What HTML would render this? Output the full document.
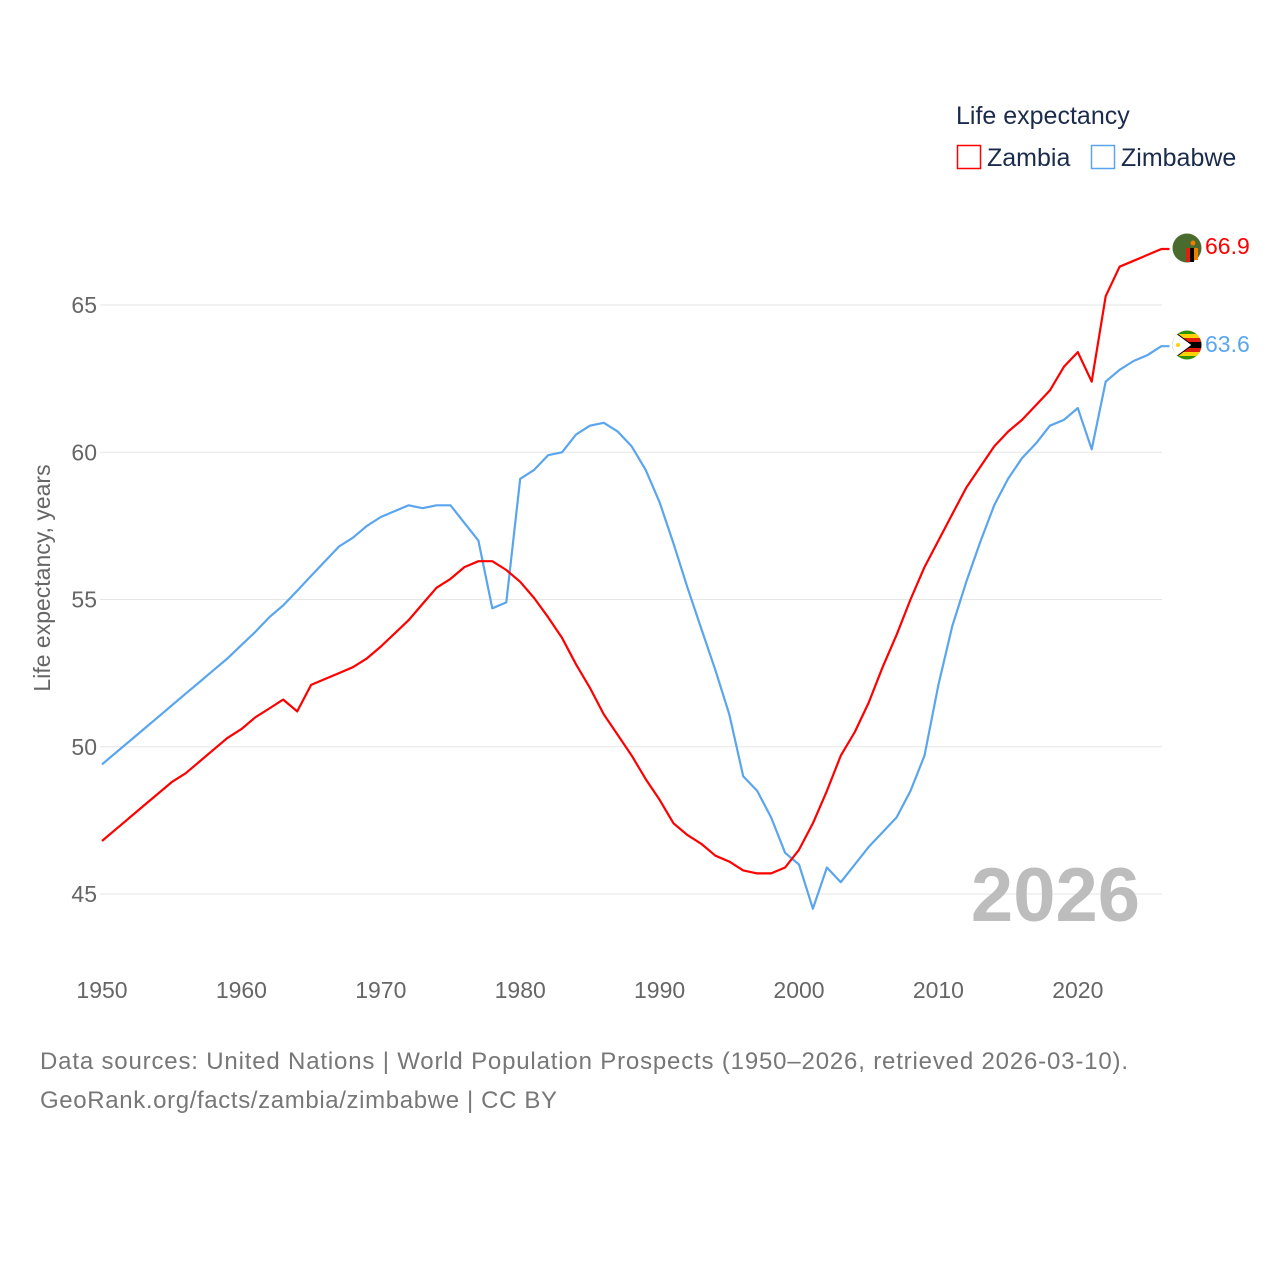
<!DOCTYPE html>
<html><head><meta charset="utf-8"><style>
body{margin:0;background:#fff;font-family:"Liberation Sans","DejaVu Sans",sans-serif}
svg text{font-family:"Liberation Sans","DejaVu Sans",sans-serif}
</style></head><body>
<svg id="chart" width="1280" height="1280" viewBox="0 0 1280 1280" xmlns="http://www.w3.org/2000/svg">
<g id="grid"></g>
<g id="yticks"></g>
<g id="xticks"></g>
<text transform="translate(50,578) rotate(-90)" text-anchor="middle" font-size="23" fill="#666">Life expectancy, years</text>
<text x="1140" y="921" text-anchor="end" font-size="76" font-weight="bold" fill="#bdbdbd">2026</text>
<g id="series"></g>
<g>
<text x="956" y="124" font-size="25" fill="#1b2b4b">Life expectancy</text>
<rect x="957.5" y="145.5" width="23" height="23" fill="none" stroke="#ff0000" stroke-width="1.5"/>
<text x="987" y="166" font-size="25" fill="#1b2b4b">Zambia</text>
<rect x="1091.5" y="145.5" width="23" height="23" fill="none" stroke="#5aa5ee" stroke-width="1.5"/>
<text x="1121" y="166" font-size="25" fill="#1b2b4b">Zimbabwe</text>
</g>
<g>
<circle cx="1187" cy="248" r="14.5" fill="#4a6b2e"/>
<rect x="1186" y="248" width="4" height="14" fill="#de2010"/>
<rect x="1190" y="248" width="4" height="14" fill="#000"/>
<rect x="1194" y="248" width="4" height="12" fill="#ef7d00"/>
<circle cx="1193" cy="243" r="2.5" fill="#ef7d00"/>
</g>
<g>
<clipPath id="zc"><circle cx="1187" cy="345" r="14.5"/></clipPath>
<g clip-path="url(#zc)">
<rect x="1172" y="330" width="30" height="30" fill="#319208"/>
<rect x="1172" y="334" width="30" height="4" fill="#ffd200"/>
<rect x="1172" y="338" width="30" height="4" fill="#de2010"/>
<rect x="1172" y="342" width="30" height="6" fill="#000"/>
<rect x="1172" y="348" width="30" height="4" fill="#de2010"/>
<rect x="1172" y="352" width="30" height="4" fill="#ffd200"/>
<polygon points="1172,330 1192,345 1172,360" fill="#fff" stroke="#000" stroke-width="1"/>
<circle cx="1178" cy="345" r="2" fill="#ffd200"/>
</g></g>
<text x="1205" y="254" font-size="23" fill="#ff0000">66.9</text>
<text x="1205" y="352" font-size="23" fill="#5aa5ee">63.6</text>
<text x="40" y="1069" font-size="24" fill="#777" textLength="1088" lengthAdjust="spacing">Data sources: United Nations | World Population Prospects (1950–2026, retrieved 2026-03-10).</text>
<text x="40" y="1108" font-size="24" fill="#777" textLength="517" lengthAdjust="spacing">GeoRank.org/facts/zambia/zimbabwe | CC BY</text>
</svg>
<script>
const years=[];for(let y=1950;y<=2026;y++)years.push(y);
const zambia=[46.8,47.2,47.6,48.0,48.4,48.8,49.1,49.5,49.9,50.3,50.6,51.0,51.3,51.6,51.2,52.1,52.3,52.5,52.7,53.0,53.4,53.85,54.3,54.85,55.4,55.7,56.1,56.3,56.3,56.0,55.6,55.05,54.4,53.7,52.8,52.0,51.1,50.4,49.7,48.9,48.2,47.4,47.0,46.7,46.3,46.1,45.8,45.7,45.7,45.9,46.5,47.4,48.5,49.7,50.5,51.5,52.7,53.8,55.0,56.1,57.0,57.9,58.8,59.5,60.2,60.7,61.1,61.6,62.1,62.9,63.4,62.4,65.3,66.3,66.5,66.7,66.9];
const zimbabwe=[49.4,49.8,50.2,50.6,51.0,51.4,51.8,52.2,52.6,53.0,53.45,53.9,54.4,54.8,55.3,55.8,56.3,56.8,57.1,57.5,57.8,58.0,58.2,58.1,58.2,58.2,57.6,57.0,54.7,54.9,59.1,59.4,59.9,60.0,60.6,60.9,61.0,60.7,60.2,59.4,58.3,56.9,55.4,54.0,52.6,51.1,49.0,48.5,47.6,46.4,46.0,44.5,45.9,45.4,46.0,46.6,47.1,47.6,48.5,49.7,52.1,54.1,55.6,56.95,58.2,59.1,59.8,60.3,60.9,61.1,61.5,60.1,62.4,62.8,63.1,63.3,63.6];
const yTicks=[45,50,55,60,65];
const xTicks=[1950,1960,1970,1980,1990,2000,2010,2020];
const NS="http://www.w3.org/2000/svg";
const X=y=>102+(y-1950)*13.94;
const Y=v=>305+(65-v)*29.45;
const grid=document.getElementById('grid'),yt=document.getElementById('yticks'),xt=document.getElementById('xticks'),ser=document.getElementById('series');
function mk(tag,attrs,parent){const e=document.createElementNS(NS,tag);for(const k in attrs)e.setAttribute(k,attrs[k]);parent.appendChild(e);return e;}
yTicks.forEach(v=>{
 const l=mk('line',{x1:100,x2:1162,y1:Y(v),y2:Y(v),stroke:'#e6e6e6','stroke-width':1},grid);
 
 
 const t=mk('text',{x:97,y:Y(v)+8,'text-anchor':'end','font-size':23,fill:'#666'},yt);
 t.textContent=v;
 
 
});
xTicks.forEach(v=>{
 const t=mk('text',{x:X(v),y:998,'text-anchor':'middle','font-size':23,fill:'#666'},xt);
 t.textContent=v;
 
 
});
function line(vals,color,name){
 const d=vals.map((v,i)=>(i?'L':'M')+X(years[i]).toFixed(1)+','+Y(v).toFixed(1)).join(' ')+' L'+(X(2026)+8)+','+Y(vals[vals.length-1]).toFixed(1);
 const p=mk('path',{d:d,fill:'none',stroke:color,'stroke-width':2.2,'stroke-linejoin':'round'},ser);
 
 
}
line(zimbabwe,'#5aa5ee','line-zimbabwe');
line(zambia,'#ff0000','line-zambia');
</script>
</body></html>
